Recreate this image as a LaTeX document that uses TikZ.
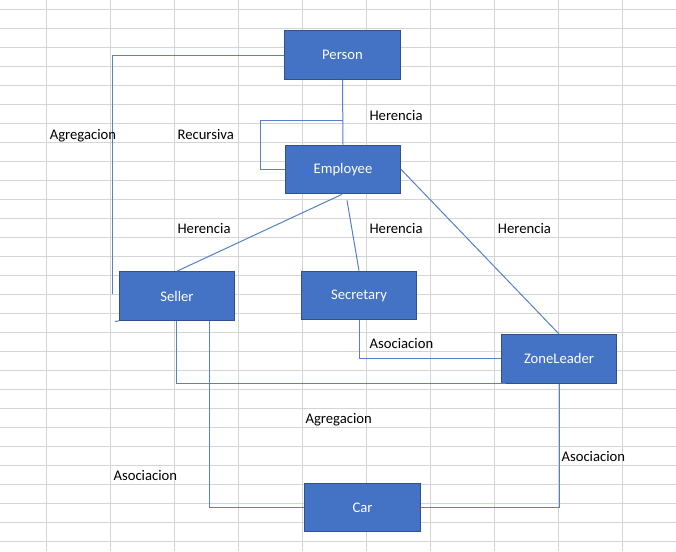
\documentclass[tikz,border=0pt]{standalone}
\usepackage{fontspec}
\setmainfont{Carlito}
\usetikzlibrary{calc}

\definecolor{boxblue}{HTML}{4472C4}
\definecolor{boxedge}{HTML}{2F528F}
\definecolor{linkblue}{HTML}{5580CC}
\definecolor{cellgrid}{HTML}{D4D4D4}

\begin{document}
\begin{tikzpicture}[
    x=0.75pt, y=-0.75pt,
    font=\fontsize{11}{13}\selectfont,
    % --- block styles ---
    cls/.style={
        draw=boxedge, fill=boxblue, line width=0.75pt,
        minimum width=86.5pt, minimum height=36.5pt,
        inner sep=0pt, text=white},
    lbl/.style={anchor=base west, inner sep=0pt, text=black},
    link/.style={draw=linkblue, line width=0.75pt},
    cell/.style={draw=cellgrid, line width=0.75pt},
]
\useasboundingbox (0,0) rectangle (676,551);

% ===== SHEET GRID =====
\fill[white] (0,0) rectangle (676,551);
\foreach \k in {0,...,9}{
    \draw[cell] ({46+64*\k},0) -- ({46+64*\k},551);
}
\foreach \k in {0,...,28}{
    \draw[cell] (0,{9.3+19*\k}) -- (676,{9.3+19*\k});
}

% ===== CONNECTORS (under the boxes) =====
\coordinate (aggend) at (112,294);
\coordinate (recur) at (260,120);
\coordinate (tick) at (115,321.5);

% ===== CLASSES =====
\node[cls] (person)    at (342.5,55)  {Person};
\node[cls] (employee)  at (343,169.5) {Employee};
\node[cls] (seller)    at (177,296)   {Seller};
\node[cls] (secretary) at (359,295.5) {Secretary};
\node[cls] (zone)      at (559,358.8) {ZoneLeader};
\node[cls] (car)       at (362.5,507.5) {Car};

% ===== ARROWS — person / employee =====
\draw[link] (person.west) -| (aggend);
\draw[link] (tick) -- (seller.south west);
\draw[link] (person.south) -- (employee.north);
\draw[link] (employee.west) -| (recur) -- (recur -| employee.north);

% ===== ARROWS — inheritance from employee =====
\draw[link] ($(employee.south)+(-1,0)$) -- (seller.north);
\draw[link] ($(employee.south)+(4,6)$) -- (secretary.north);
\draw[link] (employee.east) -- (zone.north);

% ===== ARROWS — associations =====
\draw[link] (secretary.south) |- (zone.west);
\draw[link] ($(seller.south)+(-1,0)$) |- ($(zone.south west)+(5,0)$);
\draw[link] ($(seller.south)+(32.5,0)$) |- (car.west);
\draw[link] (zone.south) |- (car.east);

% ===== LABELS =====
\node[lbl] (lherp)  at (369.3,120)   {Herencia};
\node[lbl] (lagg)   at (49.5,139)    {Agregacion};
\node[lbl] (lrec)   at (177.3,139)   {Recursiva};
\node[lbl] (lhers)  at (177.3,233.3) {Herencia};
\node[lbl] (lhersc) at (369.3,233.3) {Herencia};
\node[lbl] (lherz)  at (497.7,233.3) {Herencia};
\node[lbl] (lassz)  at (369.4,348.6) {Asociacion};
\node[lbl] (laggz)  at (305.3,423.3) {Agregacion};
\node[lbl] (lassc)  at (113.3,480.7) {Asociacion};
\node[lbl] (lassr)  at (561.3,461.7) {Asociacion};

\end{tikzpicture}
\end{document}
